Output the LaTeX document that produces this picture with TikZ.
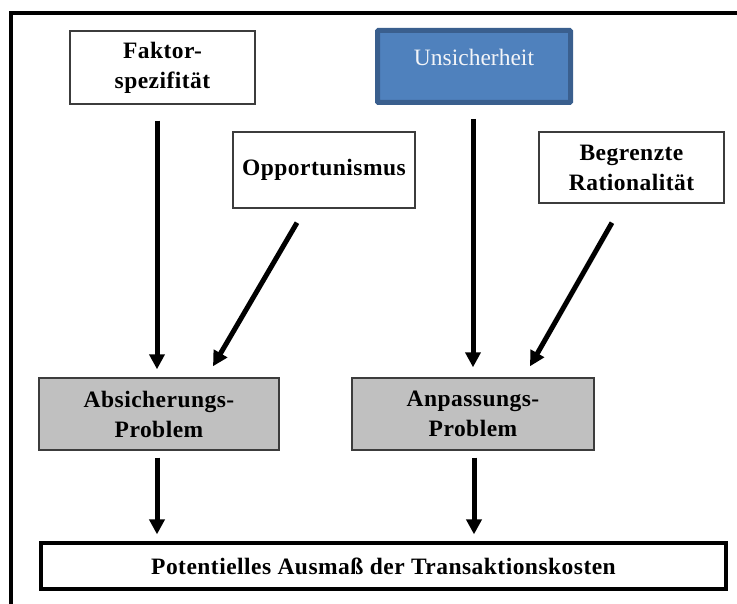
\documentclass[tikz,border=0pt]{standalone}
\usepackage{fontspec}
\setmainfont{Liberation Serif}
\newfontfamily\boldlbl[LetterSpace=2]{Liberation Serif Bold}
\usetikzlibrary{arrows.meta,calc}

\definecolor{boxline}{HTML}{3C3C3C}
\definecolor{probfill}{HTML}{C0C0C0}
\definecolor{unsfill}{HTML}{4F81BD}
\definecolor{unsline}{HTML}{3A5F8E}
\definecolor{unstext}{HTML}{F2F4F8}

\tikzset{
  factor/.style={draw=boxline, line width=1.4pt, fill=white, inner sep=0pt,
    align=center, font=\boldlbl\fontsize{23.5}{30}\selectfont},
  problem/.style={factor, fill=probfill},
  flowarrow/.style={line width=5pt,
    -{Triangle[length=15pt,width=15pt]}},
}

\begin{document}
\begin{tikzpicture}[x=1pt,y=-1pt]
  \useasboundingbox (0,0) rectangle (737,604);

  % outer frame (open towards the right and bottom)
  \draw[line width=4pt, line cap=rect] (11,604) -- (11,13) -- (737,13);

  % influencing factors
  \node[factor, minimum width=185pt, minimum height=73pt] (fak) at (162.5,67.5)
    {Faktor-\\spezifität};
  \node[draw=unsline, line width=5pt, fill=unsfill, rounded corners=1pt,
    minimum width=193pt, minimum height=72pt, inner sep=0pt] (uns) at (474,66.5) {};
  \node[text=unstext, font=\fontsize{23.5}{28}\selectfont, inner sep=0pt]
    (unstxt) at ($(uns.center)+(0,-9.5)$) {Unsicherheit};
  \node[factor, minimum width=182pt, minimum height=76pt] (opp) at (324,170)
    {Opportunismus};
  \node[factor, minimum width=185pt, minimum height=71pt] (beg) at (631.5,167.5)
    {Begrenzte\\Rationalität};

  % resulting problems
  \node[problem, minimum width=240pt, minimum height=72pt] (abs) at (159,414)
    {Absicherungs-\\Problem};
  \node[problem, minimum width=242pt, minimum height=72pt] (anp) at (473,414)
    {Anpassungs-\\Problem};

  % outcome
  \node[factor, draw=black, line width=3.2pt, minimum width=685pt, minimum height=46pt]
    (bot) at (383.5,566) {Potentielles Ausmaß der Transaktionskosten};

  % causal arrows
  \draw[flowarrow] ($(fak.south)+(-5.5,16)$) -- ($(abs.north)+(-2,-8)$);
  \draw[flowarrow] ($(opp.south)+(-27,14)$) -- ($(abs.north)+(54,-11)$);
  \draw[flowarrow] ($(uns.south)+(-1,14)$) -- ($(anp.north)+(0,-10)$);
  \draw[flowarrow] ($(beg.south)+(-19.5,19)$) -- ($(anp.north)+(57,-11)$);
  \draw[flowarrow] ($(abs.south)+(-2,7)$) -- ($(abs.south |- bot.north)+(-2,-7)$);
  \draw[flowarrow] ($(anp.south)+(1,7)$) -- ($(anp.south |- bot.north)+(1,-7)$);
\end{tikzpicture}
\end{document}
